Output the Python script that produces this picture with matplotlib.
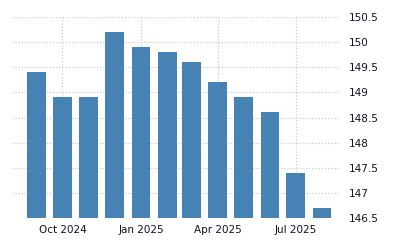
import numpy as np
import pandas as pd
import matplotlib
matplotlib.use("Agg")
import matplotlib.pyplot as plt
import matplotlib.dates as mdates

# monthly values, Sep 2024 .. Aug 2025
months = pd.date_range("2024-09-01", "2025-08-01", freq="MS")
values = [149.4, 148.9, 148.9, 150.2, 149.9, 149.8, 149.6, 149.2, 148.9, 148.6, 147.4, 146.7]
tick_dates = pd.to_datetime(["2024-10-01", "2025-01-01", "2025-04-01", "2025-07-01"])
tick_labels = ["Oct 2024", "Jan 2025", "Apr 2025", "Jul 2025"]
y_ticks = [146.5, 147, 147.5, 148, 148.5, 149, 149.5, 150, 150.5]

bar_color = "#4682b4"
grid_color = "#cccccc"

fig = plt.figure(figsize=(4, 2.5), dpi=100)
ax = fig.add_axes([0.03, 0.128, 0.82, 0.804])

ax.bar(months, np.array(values) - 146.5, bottom=146.5, width=22, color=bar_color, zorder=2)

ax.set_ylim(146.5, 150.5)
ax.set_xlim(pd.Timestamp("2024-08-03"), pd.Timestamp("2025-08-22"))

ax.set_yticks(y_ticks)
ax.set_yticklabels([f"{v:g}" for v in y_ticks])
ax.yaxis.tick_right()
ax.set_xticks(tick_dates)
ax.set_xticklabels(tick_labels)

ax.tick_params(axis="both", length=0, labelsize=7.5, colors="#111122")
ax.tick_params(axis="y", pad=6)
ax.tick_params(axis="x", pad=5)

ax.grid(True, color=grid_color, linestyle=(0, (1, 1.5)), linewidth=0.9, zorder=0)
for s in ax.spines.values():
    s.set_visible(False)

fig.savefig("out.png", dpi=100)
